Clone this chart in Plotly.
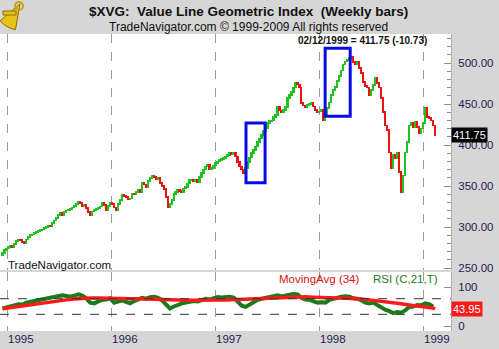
import math
import pandas as pd
import plotly.graph_objects as go

# Weekly closes of the Value Line Geometric Index, Dec 1994 - Feb 1999
first_week = "1994-12-16"
first_open = 266.0
closes = [
    268, 272, 274, 276, 277, 275, 279, 283, 285, 284,
    282, 280, 285, 288, 290, 291, 293, 294, 295, 296,
    297, 299, 300, 302, 301, 305, 308, 311, 315, 317,
    314, 318, 320, 321, 322, 324, 326, 328, 331, 329,
    326, 327, 323, 318, 315, 319, 321, 322, 323, 325,
    329, 327, 321, 326, 329, 328, 324, 321, 328, 333,
    339, 338, 337, 334, 335, 341, 340, 343, 345, 342,
    354, 352, 349, 356, 360, 363, 361, 358, 360, 354,
    350, 346, 337, 324, 328, 333, 340, 343, 345, 344,
    343, 347, 349, 353, 357, 358, 356, 357, 355, 361,
    366, 370, 374, 376, 370, 372, 375, 378, 380, 382,
    383, 384, 386, 388, 390, 389, 390, 386, 379, 374,
    370, 366, 372, 379, 385, 390, 394, 398, 404, 408,
    412, 417, 421, 427, 429, 430, 434, 437, 446, 442,
    440, 443, 446, 457, 461, 465, 470, 476, 474, 470,
    451, 448, 446, 449, 450, 452, 447, 443, 440, 441,
    443, 430, 438, 445, 452, 461, 467, 471, 478, 484,
    491, 498, 502, 504, 506, 508, 501, 498, 501, 494,
    488, 477, 472, 470, 461, 467, 473, 482, 476, 470,
    457, 440, 424, 418, 391, 372, 388, 384, 391, 367,
    343, 363, 391, 404, 424, 427, 422, 428, 422, 415,
    420, 427, 445, 434, 433, 430, 424, 411.75,
]

# RSI(C,21) sampled every two weeks
rsi_vals = [
    45, 48, 51, 53, 56, 55, 60, 62, 64, 66,
    68, 70, 71, 74, 77, 79, 77, 75, 78, 81,
    78, 71, 60, 58, 63, 67, 68, 71, 60, 64,
    66, 62, 58, 64, 69, 72, 70, 74, 75, 72,
    66, 55, 45, 50, 55, 58, 60, 63, 64, 63,
    66, 70, 68, 71, 74, 73, 75, 75, 73, 62,
    52, 49, 55, 60, 67, 70, 72, 73, 75, 79,
    76, 77, 80, 82, 81, 72, 68, 67, 64, 60,
    61, 60, 67, 70, 73, 75, 76, 75, 71, 70,
    66, 60, 58, 60, 54, 47, 42, 38, 33, 36,
    34, 40, 49, 50, 54, 53, 58, 56, 50,
]

# 34-period moving average of the RSI, sampled every four weeks, plus the last value
ma_vals = [
    44, 47, 50, 54, 57, 60, 62, 65, 67, 69,
    71, 72, 72, 71, 71, 70, 70, 70, 69, 68,
    68, 67, 66, 66, 66, 67, 67, 67, 67, 68,
    68, 68, 69, 71, 72, 73, 74, 74, 75, 74,
    74, 73, 72, 71, 71, 69, 67, 65, 62, 60,
    57, 54, 52, 49, 46, 43.95,
]

year_labels = ["1995", "1996", "1997", "1998", "1999"]
last_close = 411.75
last_change = -10.73

# ---------------------------------------------------------------- geometry
W, H = 499, 349
PL, PR, PT, PB = 0, 451, 34, 331


def px(x):
    return (x - PL) / (PR - PL)


def py(y):
    return (PB - y) / (PB - PT)


FONT = "Liberation Sans, Arial, sans-serif"
NAVY = "#1c1c50"
GREEN_UP = "#1fc21f"
RED_DN = "#ee1111"

week_dates = pd.date_range(first_week, periods=len(closes), freq="7D")
opens = [first_open] + closes[:-1]
bases = [min(o, c) - 1.0 for o, c in zip(opens, closes)]
heights = [abs(c - o) + 2.0 for o, c in zip(opens, closes)]
bar_colors = [GREEN_UP if c >= o else RED_DN for o, c in zip(opens, closes)]

rsi_dates = week_dates[::2][: len(rsi_vals)]
ma_dates = list(week_dates[::4][: len(ma_vals) - 1]) + [week_dates[-1]]

fig = go.Figure()

fig.add_trace(go.Bar(
    x=week_dates, y=heights, base=bases,
    marker=dict(color=bar_colors, line=dict(width=0)),
    width=6.8 * 86400000,
    xaxis="x", yaxis="y", showlegend=False, hoverinfo="skip",
))

fig.add_trace(go.Scatter(
    x=rsi_dates, y=rsi_vals, mode="lines",
    line=dict(color="#1b7a1b", width=4),
    xaxis="x2", yaxis="y2", showlegend=False, hoverinfo="skip",
))
fig.add_trace(go.Scatter(
    x=ma_dates, y=ma_vals, mode="lines",
    line=dict(color="#ff1a1a", width=3.5),
    xaxis="x2", yaxis="y2", showlegend=False, hoverinfo="skip",
))

x_range = ["1994-12-07", "1999-04-09"]
xcommon = dict(
    type="date", range=x_range, showticklabels=False, ticks="",
    showgrid=True, gridcolor="#9a9a9a", griddash="dash", gridwidth=1,
    tick0="1995-01-01", dtick="M12", zeroline=False, showline=False,
)

fig.update_layout(
    width=W, height=H,
    margin=dict(l=PL, r=W - PR, t=PT, b=H - PB, pad=0),
    paper_bgcolor="#d6d6d6", plot_bgcolor="#ffffff",
    font=dict(family=FONT, size=11, color=NAVY),
    bargap=0,
    xaxis=dict(domain=[0, 1], anchor="y", **xcommon),
    xaxis2=dict(domain=[0, 1], anchor="y2", matches="x", **xcommon),
    yaxis=dict(
        domain=[py(270), 1], range=[247.6, 535.4], side="right",
        dtick=50, tick0=0, tickformat=".2f",
        ticks="inside", ticklen=7, tickcolor="#8a8a8a",
        minor=dict(dtick=10, ticks="inside", ticklen=4, tickcolor="#8a8a8a"),
        showgrid=False, zeroline=False, showline=True, linecolor="#b0b0b0",
        tickfont=dict(family=FONT, size=11.5, color=NAVY),
        ticklabelstandoff=4,
    ),
    yaxis2=dict(
        domain=[0, py(272)], range=[-12.8, 138.5], side="right",
        tickvals=[0, 100], ticktext=["0", "100"],
        ticks="inside", ticklen=7, tickcolor="#8a8a8a",
        showgrid=False, zeroline=False, showline=True, linecolor="#b0b0b0",
        tickfont=dict(family=FONT, size=11.5, color=NAVY),
        ticklabelstandoff=4,
    ),
)

# RSI reference levels
for lvl in (70, 30):
    fig.add_shape(type="line", xref="paper", yref="y2", x0=0, x1=1,
                  y0=lvl, y1=lvl, line=dict(color="#333333", width=1, dash="dash"))

# highlighted rallies
for x0, x1, y0, y1 in [("1997-04-19", "1997-06-25", 354, 427),
                       ("1998-01-22", "1998-04-20", 435, 518)]:
    fig.add_shape(type="rect", xref="x", yref="y", x0=x0, x1=x1, y0=y0, y1=y1,
                  line=dict(color="#0a0ae6", width=3), fillcolor="rgba(0,0,0,0)")

# sextant logo in the top-left corner
cx, cy, rad = 20, 4, 26
arc = [(cx + rad * math.cos(math.radians(a)), cy + rad * math.sin(math.radians(a)))
       for a in range(100, 141, 5)][::-1]
pts = [(cx, cy)] + arc + [(cx, cy)]
path = "M " + " L ".join(f"{px(x):.4f},{py(y):.4f}" for x, y in pts) + " Z"
fig.add_shape(type="path", xref="paper", yref="paper", path=path,
              fillcolor="#e8c21a", line=dict(color="#8a6d00", width=1))
fig.add_shape(type="rect", xref="paper", yref="paper",
              x0=px(3), x1=px(16), y0=py(15), y1=py(11),
              fillcolor="#e8c21a", line=dict(color="#8a6d00", width=1))
fig.add_shape(type="circle", xref="paper", yref="paper",
              x0=px(15), x1=px(23), y0=py(10), y1=py(2),
              fillcolor="rgba(0,0,0,0)", line=dict(color="#c9a200", width=2))

BOLD_FONT = "Arial, Liberation Sans, sans-serif"

ann = []
ann.append(dict(text="<b>$XVG:\u00a0 Value Line Geometric Index\u00a0 (Weekly bars)</b>",
                x=px(248), y=py(12),
                font=dict(size=13.5, color="#111111", family=BOLD_FONT),
                xanchor="center", yanchor="middle"))
ann.append(dict(text="TradeNavigator.com \u00a9 1999-2009 All rights reserved",
                x=px(248), y=py(27), font=dict(size=12, color="#111111", family=FONT),
                xanchor="center", yanchor="middle"))
ann.append(dict(text=f"<b>02/12/1999 = {last_close:.2f} ({last_change:.2f})</b>",
                x=px(362), y=py(40),
                font=dict(size=10, color="#111111", family=BOLD_FONT),
                xanchor="center", yanchor="middle"))
ann.append(dict(text="TradeNavigator.com", x=px(6), y=py(265),
                font=dict(size=11.5, color="#111111", family=FONT),
                xanchor="left", yanchor="middle"))
ann.append(dict(text="MovingAvg (34)", x=px(277), y=py(279),
                font=dict(size=11.5, color="#e01010", family=FONT),
                xanchor="left", yanchor="middle"))
ann.append(dict(text="RSI (C,21,T)", x=px(371), y=py(279),
                font=dict(size=11.5, color="#1e7d1e", family=FONT),
                xanchor="left", yanchor="middle"))
for lab in year_labels:
    ann.append(dict(text=lab, xref="x", x=f"{lab}-01-01", y=py(339),
                    font=dict(size=11.5, color=NAVY, family=FONT),
                    xanchor="left", yanchor="middle", xshift=-1))

# last-value tags on the right scale
ann.append(dict(text=f"{last_close:.2f}", xref="paper", yref="y", x=1, y=last_close,
                font=dict(size=11, color="#ffffff", family=FONT), bgcolor="#000000",
                xanchor="left", yanchor="middle", borderpad=1))
ann.append(dict(text=f"{ma_vals[-1]:.2f}", xref="paper", yref="y2", x=1, y=ma_vals[-1],
                font=dict(size=11, color="#ffffff", family=FONT), bgcolor="#ff1a1a",
                xanchor="left", yanchor="middle", borderpad=1))

for a in ann:
    a.setdefault("xref", "paper")
    a.setdefault("yref", "paper")
    a["showarrow"] = False
fig.update_layout(annotations=ann)

fig.write_html("out.html")
